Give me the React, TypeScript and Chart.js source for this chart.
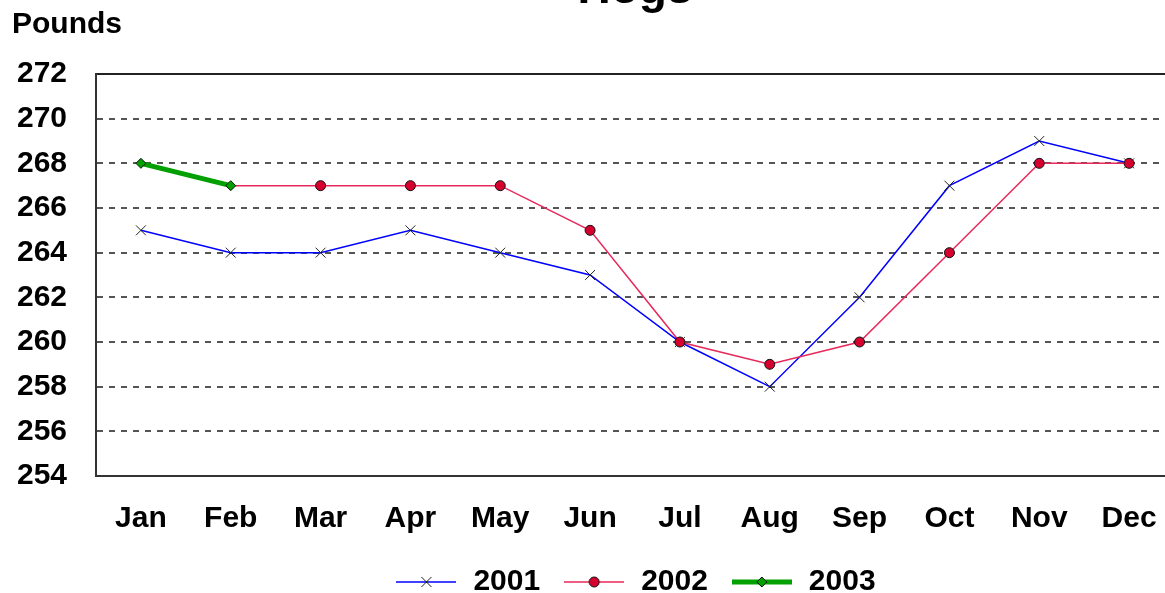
import React, { useEffect, useRef } from 'react';
import { Chart, registerables } from 'chart.js';

Chart.register(...registerables);

const titleText = 'Hogs';
const yAxisLabel = 'Pounds';
const months = ['Jan', 'Feb', 'Mar', 'Apr', 'May', 'Jun', 'Jul', 'Aug', 'Sep', 'Oct', 'Nov', 'Dec'];
const seriesLabels = ['2001', '2002', '2003'];
const values2001 = [265, 264, 264, 265, 264, 263, 260, 258, 262, 267, 269, 268];
const values2002 = [null, 267, 267, 267, 267, 265, 260, 259, 260, 264, 268, 268];
const values2003 = [268, 267, null, null, null, null, null, null, null, null, null, null];
const yMin = 254;
const yMax = 272;
const yStep = 2;

const FONT = '"Liberation Sans", Arial, sans-serif';

function makeIcon(kind: string, lineColor: string, lineWidth: number): HTMLCanvasElement {
  const c = document.createElement('canvas');
  c.width = 60;
  c.height = 16;
  const g = c.getContext('2d')!;
  g.strokeStyle = lineColor;
  g.lineWidth = lineWidth;
  g.beginPath();
  g.moveTo(0, 8);
  g.lineTo(60, 8);
  g.stroke();
  g.lineWidth = 1;
  g.strokeStyle = '#111';
  if (kind === 'cross') {
    g.strokeStyle = '#222';
    g.beginPath();
    g.moveTo(25, 3);
    g.lineTo(35, 13);
    g.moveTo(35, 3);
    g.lineTo(25, 13);
    g.stroke();
  } else if (kind === 'circle') {
    g.fillStyle = '#d6002e';
    g.beginPath();
    g.arc(30, 8, 5, 0, Math.PI * 2);
    g.fill();
    g.stroke();
  } else {
    g.fillStyle = '#00a000';
    g.beginPath();
    g.moveTo(30, 3);
    g.lineTo(35, 8);
    g.lineTo(30, 13);
    g.lineTo(25, 8);
    g.closePath();
    g.fill();
    g.stroke();
  }
  return c;
}

const textPlugin = {
  id: 'textPlugin',
  afterDraw(chart: any) {
    const { ctx, chartArea } = chart;
    ctx.save();
    ctx.fillStyle = '#000';
    ctx.font = `bold 46px ${FONT}`;
    ctx.textAlign = 'center';
    ctx.textBaseline = 'alphabetic';
    ctx.fillText(titleText, (chartArea.left + chartArea.right) / 2, 3);
    ctx.font = `bold 30px ${FONT}`;
    ctx.textAlign = 'left';
    ctx.fillText(yAxisLabel, 12, 33);
    ctx.restore();
  },
};

export default function App() {
  const ref = useRef<HTMLCanvasElement | null>(null);

  useEffect(() => {
    if (!ref.current) return;
    const icons = [
      makeIcon('cross', '#0000ff', 1.5),
      makeIcon('circle', '#e8285a', 1.5),
      makeIcon('diamond', '#00a000', 5),
    ];
    const chart = new Chart(ref.current, {
      type: 'line',
      data: {
        labels: months,
        datasets: [
          {
            label: seriesLabels[0],
            data: values2001,
            borderColor: '#0000ff',
            borderWidth: 1.5,
            pointStyle: 'crossRot',
            pointRadius: 7,
            pointBorderColor: '#222',
            pointBorderWidth: 1,
            pointBackgroundColor: '#222',
            order: 3,
          },
          {
            label: seriesLabels[1],
            data: values2002,
            borderColor: '#e8285a',
            borderWidth: 1.5,
            pointStyle: 'circle',
            pointRadius: (c: any) => (c.dataIndex === 1 ? 0 : 5),
            pointBackgroundColor: '#d6002e',
            pointBorderColor: '#111',
            pointBorderWidth: 1,
            order: 2,
          },
          {
            label: seriesLabels[2],
            data: values2003,
            borderColor: '#00a000',
            borderWidth: 5,
            pointStyle: 'rectRot',
            pointRadius: 5,
            pointBackgroundColor: '#00a000',
            pointBorderColor: '#111',
            pointBorderWidth: 1,
            order: 1,
          },
        ],
      },
      options: {
        animation: false,
        responsive: false,
        devicePixelRatio: 1,
        layout: { padding: { top: 74, left: 0, right: 0, bottom: 0 } },
        plugins: {
          title: { display: false },
          tooltip: { enabled: false },
          legend: {
            position: 'bottom',
            fullSize: false,
            labels: {
              usePointStyle: true,
              pointStyleWidth: 64,
              padding: 22,
              color: '#000',
              font: { family: FONT, size: 30, weight: 'bold' },
              generateLabels: (ch: any) =>
                ch.data.datasets.map((ds: any, i: number) => ({
                  text: ds.label,
                  pointStyle: icons[i],
                  fillStyle: 'transparent',
                  strokeStyle: 'transparent',
                  lineWidth: 0,
                  hidden: false,
                  datasetIndex: i,
                  fontColor: '#000',
                })),
            },
          },
        },
        scales: {
          x: {
            offset: true,
            afterFit: (s: any) => {
              s.height = 69;
            },
            grid: { drawOnChartArea: false, drawTicks: false },
            border: { display: true, color: '#333', width: 2 },
            ticks: {
              color: '#000',
              padding: 25,
              font: { family: FONT, size: 30, weight: 'bold' },
            },
          },
          y: {
            min: yMin,
            max: yMax,
            afterFit: (s: any) => {
              s.width = 96;
            },
            grid: {
              drawTicks: false,
              lineWidth: 2,
              color: (c: any) => (c.tick && (c.tick.value === yMax || c.tick.value === yMin) ? '#222' : '#555'),
            },
            border: {
              display: true,
              color: '#333',
              width: 2,
              dash: (c: any) => (c.tick && c.tick.value !== yMax && c.tick.value !== yMin ? [6, 6] : []),
            },
            ticks: {
              stepSize: yStep,
              color: '#000',
              padding: 29,
              font: { family: FONT, size: 30, weight: 'bold' },
            },
          },
        },
      },
      plugins: [textPlugin],
    } as any);
    return () => chart.destroy();
  }, []);

  return (
    <div style={{ position: 'fixed', left: 0, top: 0, width: 1165, height: 593, overflow: 'hidden', background: '#fff' }}>
      <canvas ref={ref} width={1182} height={607} style={{ display: 'block' }} />
    </div>
  );
}
